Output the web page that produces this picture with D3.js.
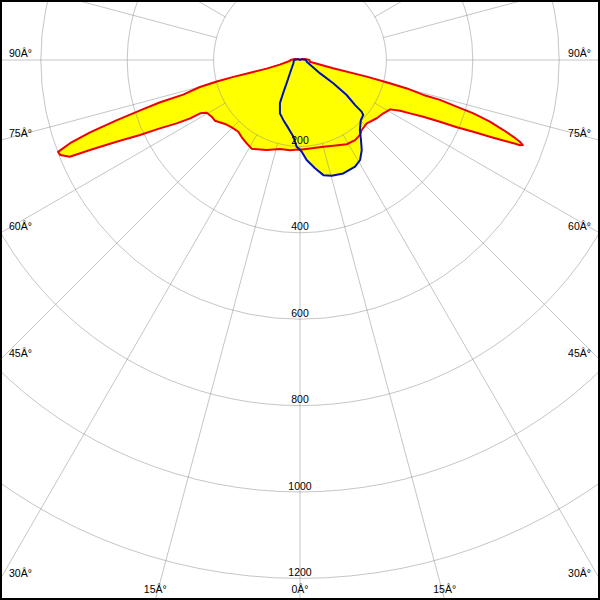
<!DOCTYPE html>
<html>
<head>
<meta charset="utf-8">
<script src="https://cdn.jsdelivr.net/npm/d3@7"></script>
<style>
  html, body { margin: 0; padding: 0; background: #fff; }
  svg { display: block; }
  text { font-family: "Liberation Sans", Arial, sans-serif; font-size: 10.5px; fill: #000; }
</style>
</head>
<body>
<svg id="chart" width="600" height="600"></svg>
<script>
// ---- data (angle from nadir in degrees, negative = left; intensity in cd) ----
const ringValues = [200, 400, 600, 800, 1000, 1200];
const ringLabels = ["200", "400", "600", "800", "1000", "1200"];
const spokeAngles = d3.range(0, 360, 15);
const angleTicks = [0, 15, 30, 45, 60, 75, 90];
const angleTickLabels = ["0\u00C2\u00B0", "15\u00C2\u00B0", "30\u00C2\u00B0", "45\u00C2\u00B0", "60\u00C2\u00B0", "75\u00C2\u00B0", "90\u00C2\u00B0"];

const redAngles = [-180, -120, -100, -90, -86, -77, -75.5, -75.7, -75.8, -75.5, -74.9, -73.5, -73.2, -72.5, -71.8, -71, -70.1, -69.2,
  -68.4, -67.2, -66.8, -66, -64.9, -64, -62.8, -62, -61.9, -60.5, -57.3, -54.5, -49.5, -45.4, -40.7, -37, -32.6, -28.5, -20.3, -12.7, -6.3, -1.3, 0,
  6.5, 15, 21.2, 29, 34.5, 38.7, 41.4, 46.5, 52.8, 57.4, 61.3, 63.1, 64.1, 65.3, 66.2, 66.8, 67.5, 68, 68.4, 68.7, 68.8, 69.1,
  69.6, 70.2, 71, 72, 72.9, 73.4, 74.1, 74.2, 75.1, 75.5, 76, 76, 80, 90, 100, 120, 180];
const redValues = [0, 3, 12, 22, 23, 48, 80, 119, 159, 199, 240, 282, 338, 388, 446, 514, 566, 599,
  597, 578, 529, 465, 409, 361, 321, 288, 262, 248, 243, 242, 228, 222, 219, 224, 229, 234, 222, 211, 210, 207, 208,
  206, 208, 213, 223, 225, 222, 216, 213, 223, 229, 238, 260, 283, 314, 354, 395, 434, 474, 506, 530, 546, 552,
  543, 525, 498, 462, 420, 378, 337, 297, 256, 215, 159, 79, 23, 22, 12, 3, 0];

const blueAngles = [-180, -120, -90, -64, -37, -30, -27, -25, -20.6, -15.6, -9.7, -5, -2.2, 0,
  1, 3.8, 7.9, 11.5, 15.3, 20.9, 27.3, 31, 34.4, 37.3, 40.6, 45.3, 49, 50, 50.7, 53.1, 55, 56.4, 75.8, 90, 120, 180];
const blueValues = [0, 4, 14, 17, 39, 62, 86, 110, 132, 144, 160, 178, 201, 208,
  212, 232, 253, 272, 278, 281, 278, 270, 253, 233, 213, 198, 194, 186, 165, 135, 94, 56, 16, 14, 4, 0];

// ---- drawing ----
const W = 600, H = 600, cx = 300, cy = 60;
const svg = d3.select("#chart");
const r = d3.scaleLinear().domain([0, 1200]).range([0, 518.4]);
// angle from nadir (deg) -> d3 radial angle (rad, 0 = up, clockwise)
const a = d3.scaleLinear().domain([-180, 180]).range([2 * Math.PI, 0]);

svg.append("rect").attr("width", W).attr("height", H).attr("fill", "#fff");

const g = svg.append("g").attr("transform", `translate(${cx},${cy})`);

const toPts = (angs, vals) => angs.map((d, i) => [d, vals[i]]);
const radial = d3.lineRadial().angle(d => a(d[0])).radius(d => r(d[1])).curve(d3.curveLinearClosed);

const redPts = toPts(redAngles, redValues);
const bluePts = toPts(blueAngles, blueValues);

g.append("path").attr("d", radial(redPts)).attr("fill", "#ffff00").attr("stroke", "none");
g.append("path").attr("d", radial(bluePts)).attr("fill", "#ffff00").attr("stroke", "none");

// grid
const grid = g.append("g").attr("stroke", "#8c8c8c").attr("stroke-opacity", 0.5).attr("fill", "none").attr("stroke-width", 1);
grid.selectAll("circle").data(ringValues).join("circle").attr("r", d => r(d));
grid.selectAll("line").data(spokeAngles).join("line")
  .attr("x1", d => r(200) * Math.sin(a(d)))
  .attr("y1", d => -r(200) * Math.cos(a(d)))
  .attr("x2", d => 1000 * Math.sin(a(d)))
  .attr("y2", d => -1000 * Math.cos(a(d)));

// curves
g.append("path").attr("d", radial(redPts)).attr("fill", "none").attr("stroke", "#ee0000").attr("stroke-width", 2).attr("stroke-linejoin", "round");
g.append("path").attr("d", radial(bluePts)).attr("fill", "none").attr("stroke", "#0010b8").attr("stroke-width", 2).attr("stroke-linejoin", "round");

// ring labels
g.selectAll("text.ring").data(ringValues).join("text").attr("class", "ring")
  .attr("x", 0).attr("y", d => r(d) - 2.5).attr("text-anchor", "middle")
  .text((d, i) => ringLabels[i]);

// angle labels
const labels = [];
angleTicks.forEach((t, i) => {
  [-1, 1].forEach(side => {
    if (t === 0 && side === 1) return;
    const th = t * Math.PI / 180;
    const dx = Math.sin(th), dy = Math.cos(th);
    const tSide = dx > 1e-6 ? (W / 2) / dx : Infinity;
    const tBot = dy > 1e-6 ? (H - cy) / dy : Infinity;
    if (tSide < tBot) {
      const yHit = cy + dy * tSide;
      labels.push({ x: side < 0 ? 9 : 591, y: yHit - 3, anchor: side < 0 ? "start" : "end", text: angleTickLabels[i] });
    } else {
      const xHit = cx + side * dx * tBot;
      labels.push({ x: xHit, y: 593, anchor: "middle", text: angleTickLabels[i] });
    }
  });
});
svg.selectAll("text.ang").data(labels).join("text").attr("class", "ang")
  .attr("x", d => d.x).attr("y", d => d.y).attr("text-anchor", d => d.anchor).text(d => d.text);

// frame
svg.append("rect").attr("x", 1).attr("y", 1).attr("width", W - 2).attr("height", H - 2)
  .attr("fill", "none").attr("stroke", "#000").attr("stroke-width", 2);
</script>
</body>
</html>
